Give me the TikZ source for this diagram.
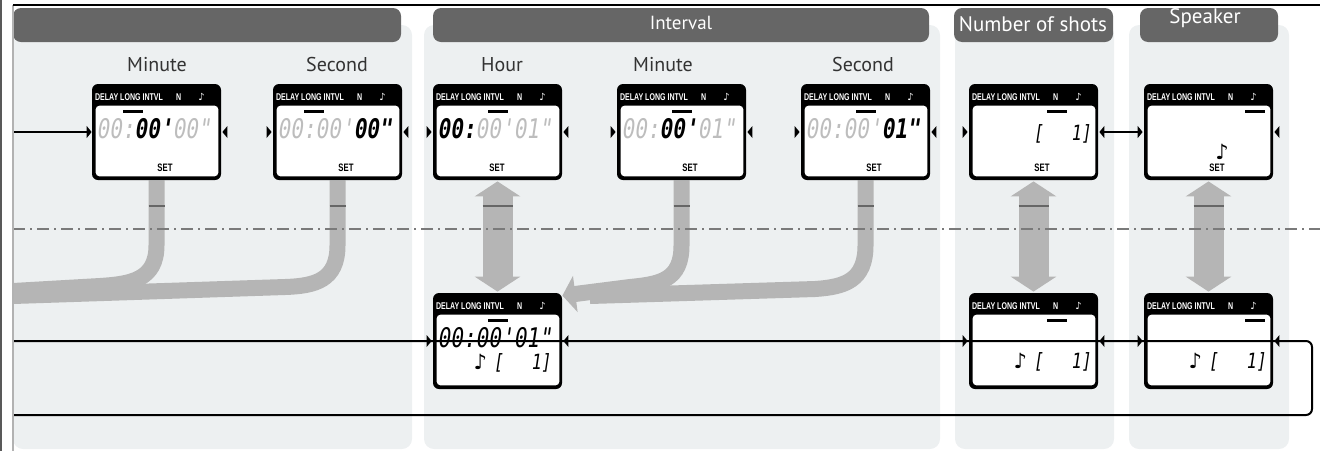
\documentclass[tikz,border=0pt]{standalone}
\usepackage{fontspec}
\setmainfont{PT Sans}
\newfontfamily\lcdfont[FakeStretch=0.72]{Liberation Sans}
\newfontfamily\segfont[FakeSlant=0.15,FakeStretch=0.78]{DejaVu Sans Mono}
\newfontfamily\notefont{DejaVu Sans}
\usetikzlibrary{arrows.meta,backgrounds}

\definecolor{panel}{HTML}{EDF0F1}
\definecolor{headgray}{HTML}{666666}
\definecolor{bandgray}{HTML}{B5B5B5}
\definecolor{lcdgray}{HTML}{BDBDBD}
\definecolor{labelgray}{HTML}{333333}

\tikzset{
  lcdbox/.style={fill=black, rounded corners=3pt, minimum width=64.5pt, minimum height=48pt, inner sep=0pt},
  lcdhead/.style={text=white, font=\lcdfont\bfseries\fontsize{4.9}{6}\selectfont, inner sep=0pt},
  settext/.style={font=\lcdfont\bfseries\fontsize{5.4}{6}\selectfont, inner sep=0pt},
  digits/.style={font=\segfont\fontsize{13.5}{14}\selectfont, inner sep=0pt, text=lcdgray},
  segtext/.style={font=\segfont\fontsize{10.5}{12}\selectfont, inner sep=0pt},
  headtext/.style={text=white, inner sep=0pt, anchor=base},
  collabel/.style={text=labelgray, font=\fontsize{10}{12}\selectfont, inner sep=0pt, anchor=base},
  band/.style={draw=bandgray, line width=8pt},
  dblband/.style={draw=bandgray, line width=15pt,
    {Triangle[width=22.5pt,length=7.5pt]}-{Triangle[width=22.5pt,length=7.5pt]},
    shorten <=0.5pt, shorten >=0.5pt},
  tick/.style={draw=headgray, line width=1pt},
  loopline/.style={draw=black, line width=1pt},
  smalltip/.tip={Triangle[width=6pt,length=2.5pt]}
}

% display: name, centre x, centre y
\newcommand{\lcd}[3]{%
  \node[lcdbox] (#1) at (#2,#3) {};
  \fill[white, rounded corners=2pt] ([shift={(4,22)}]#1.north west) rectangle ([shift={(-3,-4)}]#1.south east);
  \node[lcdhead, anchor=west] (#1-modes) at ([shift={(3,14)}]#1.north west) {DELAY LONG INTVL};
  \node[lcdhead] (#1-n) at ([shift={(87,14)}]#1.north west) {N};
  \node[lcdhead] (#1-note) at ([shift={(110,13)}]#1.north west) {\notefont ♪};
}
\newcommand{\lcdbar}[2]{\fill ([shift={(#2,26)}]#1.north west) rectangle ++(20,3);}
\newcommand{\tipW}[1]{\fill ([xshift=-0.5pt]#1.west) -- ++(-2.5pt,3pt) -- ++(0,-6pt) -- cycle;}
\newcommand{\tipE}[1]{\fill ([xshift=0.5pt]#1.east) -- ++(2.5pt,3pt) -- ++(0,-6pt) -- cycle;}

\begin{document}
\begin{tikzpicture}[x=0.5pt,y=-0.5pt]
\useasboundingbox (0,0) rectangle (1320,451);

\lcd{dMin}{156.5}{132}
\lcd{dSec}{337.5}{132}
\lcd{dHr}{497.5}{132}
\lcd{dIMin}{681.5}{132}
\lcd{dISec}{865.5}{132}
\lcd{dN}{1033.5}{132}
\lcd{dSpk}{1208.5}{132}

\lcd{bHr}{497.5}{341}
\lcd{bN}{1033.5}{341}
\lcd{bSpk}{1208.5}{341}

\lcdbar{dMin}{31}
\lcdbar{dSec}{31}
\lcdbar{dHr}{55}
\lcdbar{dIMin}{55}
\lcdbar{dISec}{55}
\lcdbar{dN}{78}
\lcdbar{dSpk}{101}
\lcdbar{bHr}{55}
\lcdbar{bN}{78}
\lcdbar{bSpk}{101}

\node[digits] (dMin-time) at (153.5,129) {00:{\color{black}\bfseries 00'}00"};
\node[digits] (dSec-time) at (334.5,129) {00:00'{\color{black}\bfseries 00"}};
\node[digits] (dHr-time) at (494.5,129) {{\color{black}\bfseries 00:}00'01"};
\node[digits] (dIMin-time) at (678.5,129) {00:{\color{black}\bfseries 00'}01"};
\node[digits] (dISec-time) at (862.5,129) {00:00'{\color{black}\bfseries 01"}};
\node[digits, text=black] (bHr-time) at (494.5,338) {00:00'01"};

\node[segtext, anchor=east] (dN-count) at (1091,134) {[\hspace{14pt}1]};
\node[segtext] (dSpk-sound) at (1222,152) {\notefont ♪};
\node[segtext, anchor=east] (bHr-line) at (551,363) {{\notefont ♪}\hspace{3pt}[\hspace{14pt}1]};
\node[segtext, anchor=east] (bN-line) at (1091,362) {{\notefont ♪}\hspace{3pt}[\hspace{14pt}1]};
\node[segtext, anchor=east] (bSpk-line) at (1266,362) {{\notefont ♪}\hspace{3pt}[\hspace{14pt}1]};

\node[settext] (dMin-set) at (165,168) {SET};
\node[settext] (dSec-set) at (346,168) {SET};
\node[settext] (dHr-set) at (497,168) {SET};
\node[settext] (dIMin-set) at (690,168) {SET};
\node[settext] (dISec-set) at (874,168) {SET};
\node[settext] (dN-set) at (1042,168) {SET};
\node[settext] (dSpk-set) at (1217,168) {SET};

\begin{scope}[on background layer]
\fill[panel, rounded corners=5pt] (13,25) rectangle (412,449);
\fill[panel, rounded corners=5pt] (424,25) rectangle (940,449);
\fill[panel, rounded corners=5pt] (955,25) rectangle (1114,449);
\fill[panel, rounded corners=5pt] (1129,25) rectangle (1289,449);

\fill[headgray, rounded corners=4pt] (13,8) rectangle (401,42);
\fill[headgray, rounded corners=4pt] (433,8) rectangle (929,42);
\fill[headgray, rounded corners=4pt] (954,8) rectangle (1113,42);
\fill[headgray, rounded corners=4pt] (1140,8) rectangle (1278,42);

\draw[band] (dMin.south) -- ++(0,65) .. controls +(0,35) and (130,284) .. (100,286) -- (13,291);
\draw[band] (dSec.south) -- ++(0,65) .. controls +(0,35) and (315,286) .. (285,287) -- (13,296);
\draw[band] (dISec.south) -- ++(0,65) .. controls +(0,35) and (845,287) .. (815,289) -- (590,296);
\draw[band, -{Triangle[width=18pt,length=6.5pt]}] (dIMin.south) -- ++(0,65) .. controls +(0,35) and (660,284) .. (630,287) -- ([yshift=-1.5pt]bHr.north east);
\draw[dblband] (dHr.south) -- (bHr.north);
\draw[dblband] (dN.south) -- (bN.north);
\draw[dblband] (dSpk.south) -- (bSpk.north);

\draw[tick] ([shift={(-8,26)}]dMin.south) -- ++(16,0);
\draw[tick] ([shift={(-8,26)}]dSec.south) -- ++(16,0);
\draw[tick] ([shift={(-8,26)}]dIMin.south) -- ++(16,0);
\draw[tick] ([shift={(-8,26)}]dISec.south) -- ++(16,0);
\draw[tick] ([shift={(-15,26)}]dHr.south) -- ++(30,0);
\draw[tick] ([shift={(-15,26)}]dN.south) -- ++(30,0);
\draw[tick] ([shift={(-15,26)}]dSpk.south) -- ++(30,0);

\draw[draw=black!52, line width=1pt, dash pattern=on 6pt off 2.5pt on 1pt off 2.5pt] (13,229) -- (1320,229);
\end{scope}

\node[headtext, font=\fontsize{9.5}{11}\selectfont] (tInterval) at (681,29) {Interval};
\node[headtext, font=\fontsize{10.5}{12}\selectfont] (tShots) at (1033,31) {Number of shots};
\node[headtext, font=\fontsize{10.5}{12}\selectfont] (tSpeaker) at (1205,23) {Speaker};

\node[collabel] (lMin) at (157,71) {Minute};
\node[collabel] (lSec) at (337,71) {Second};
\node[collabel] (lHr) at (502,71) {Hour};
\node[collabel] (lIMin) at (663,71) {Minute};
\node[collabel] (lISec) at (863,71) {Second};

% arrows
\coordinate (inL) at (13,132);
\draw[loopline, -smalltip] (inL) -- (dMin.west);
\tipE{dMin}
\tipW{dSec} \tipE{dSec}
\tipW{dHr} \tipE{dHr}
\tipW{dIMin} \tipE{dIMin}
\tipW{dISec} \tipE{dISec}
\tipW{dN}
\draw[loopline, smalltip-smalltip] ([xshift=0.5pt]dN.east) -- ([xshift=-0.5pt]dSpk.west);
\tipE{dSpk}

\coordinate (loopNW) at (13,341);
\coordinate (loopNE) at (1312,341);
\coordinate (loopSE) at (1312,415);
\coordinate (loopSW) at (13,415);
\draw[loopline, rounded corners=3pt] (loopNW) -- (loopNE) -- (loopSE) -- (loopSW);
\draw[loopline, line cap=rect] (loopSW) -- (loopNW);
\tipW{bHr} \tipE{bHr}
\tipW{bN} \tipE{bN}
\tipW{bSpk} \tipE{bSpk}

\draw[black!65, line width=1pt] (1,0) -- (1,451);
\draw[black!30, line width=0.6pt] (13,5) -- (13,451);
\draw[black, line width=0.75pt] (13,5) -- (1320,5);
\end{tikzpicture}
\end{document}
